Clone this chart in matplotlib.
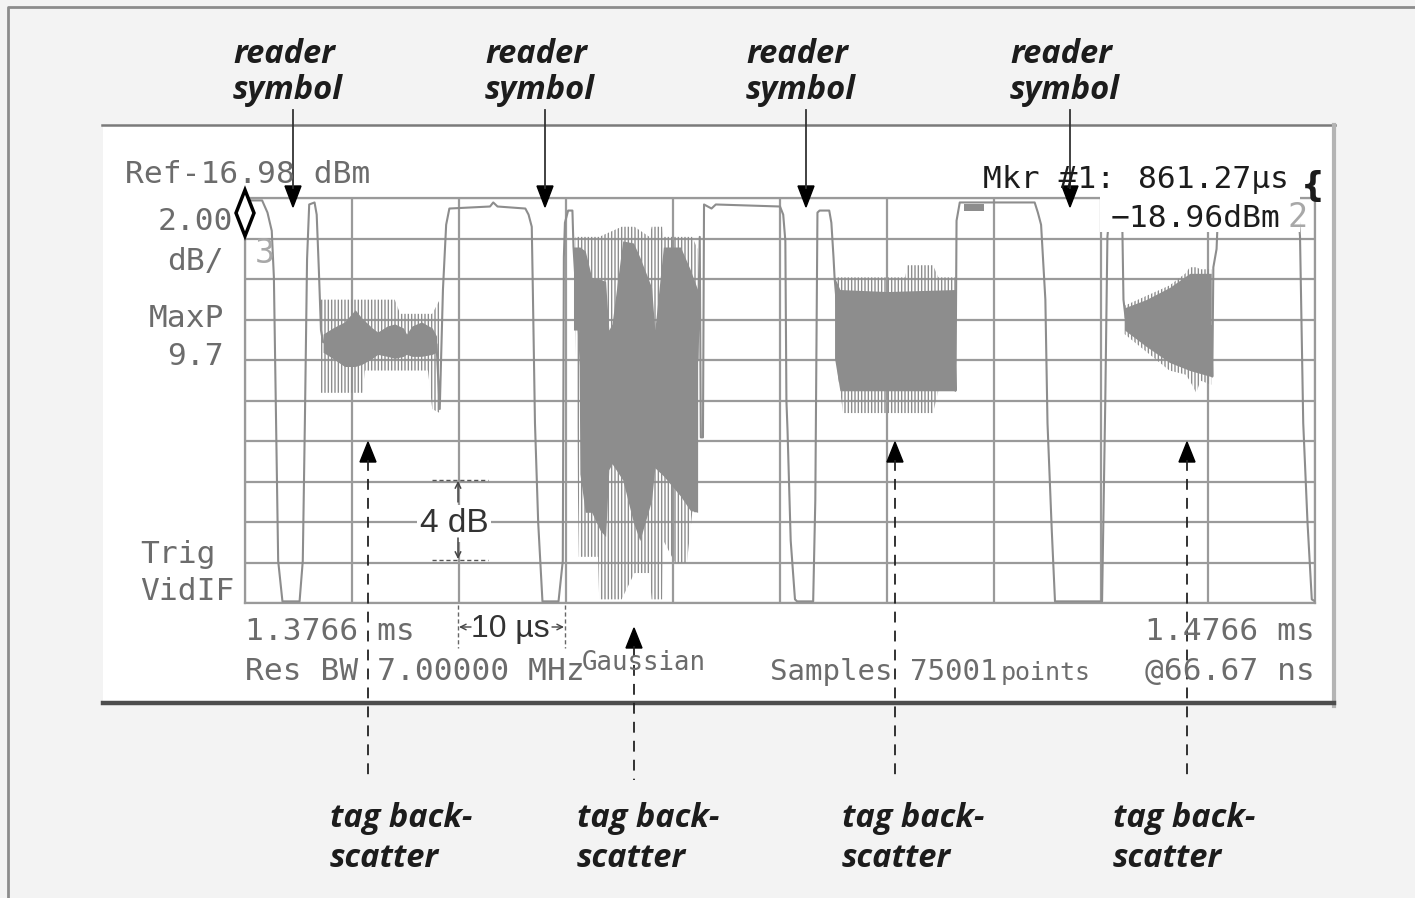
import numpy as np
import matplotlib
matplotlib.use('Agg')
import matplotlib.pyplot as plt
from matplotlib.patches import Polygon, Rectangle

plt.rcParams['hatch.linewidth'] = 1.0

# analyzer settings (zero span, time axis)
t_start_ms = 1.3766
t_stop_ms = 1.4766
ref_dbm = -16.98
db_per_div = 2.0
n_div = 10

# main trace, time in us from sweep start, level in dBm
trace_us = [0.0, 0.5, 1.6, 2.1, 2.5, 2.7, 2.9, 3.1, 3.5, 5.1, 5.4, 5.6, 5.8, 6.0, 6.5, 6.7, 6.9, 7.1, 7.3,
            17.9, 18.2, 18.5, 18.8, 19.1, 22.9, 23.2, 23.6, 26.2, 26.5, 26.8, 26.9, 27.1, 27.4, 27.8,
            29.3, 29.7, 29.8, 29.9, 30.2, 30.6, 30.7, 31.0, 31.5, 33.7, 34.1, 36.5, 38.2, 40.5, 42.3,
            42.5, 42.6, 42.8, 42.9, 43.6, 44.0, 50.0, 50.3, 50.5, 50.6, 50.7, 51.0, 51.4, 51.6,
            53.1, 53.3, 53.5, 53.7, 54.6, 54.8, 55.0, 55.1, 55.6, 66.3, 66.4, 66.5, 66.8,
            73.8, 74.1, 74.4, 74.8, 75.0, 75.4, 75.7, 80.1, 80.4, 80.6, 80.8, 81.7, 82.0, 82.1, 82.3,
            90.3, 90.4, 90.5, 90.8, 90.9, 91.3, 98.4, 98.6, 98.9, 99.3, 99.7, 100.0]
trace_dbm = [-17.7, -17.1, -17.1, -17.7, -18.6, -20.9, -27.9, -34.9, -36.9, -36.9, -34.9, -27.9, -20.0, -17.3, -17.2, -17.8, -20.5, -23.5, -24.1,
             -24.2, -27.4, -21.5, -18.3, -17.5, -17.4, -17.2, -17.4, -17.5, -17.8, -18.4, -21.5, -28.1, -33.0, -36.9,
             -36.9, -34.9, -19.9, -18.2, -17.6, -17.6, -19.4, -22.0, -26.0, -27.0, -27.0, -26.5, -26.5, -25.5, -25.0,
             -18.9, -28.8, -28.8, -17.3, -17.5, -17.3, -17.4, -17.8, -19.1, -27.0, -28.4, -33.9, -36.8, -36.9,
             -36.9, -31.9, -17.7, -17.6, -17.6, -18.2, -19.9, -20.9, -24.0, -24.0, -26.5, -18.1, -17.2,
             -17.2, -17.7, -18.3, -22.0, -28.1, -33.4, -36.9, -36.9, -27.0, -18.9, -17.7, -17.6, -18.6, -22.0, -22.9,
             -23.3, -25.8, -20.4, -19.5, -18.2, -17.4, -17.4, -18.9, -28.1, -33.0, -36.8, -36.9]

# tag backscatter bursts: dense part (core) and sparse vertical spikes (thin)
b1_core_us = [7.3, 8.2, 9.3, 10.3, 10.9, 11.9, 12.4, 13.3, 14.0, 14.8, 15.1, 15.6, 16.5, 17.5, 17.9]
b1_core_hi = [-23.7, -23.4, -23.1, -22.5, -22.9, -23.4, -23.6, -23.3, -23.2, -23.4, -23.7, -23.3, -23.1, -23.4, -23.8]
b1_core_lo = [-24.6, -24.9, -25.3, -25.3, -25.2, -24.9, -24.7, -24.8, -24.9, -24.8, -24.7, -24.8, -24.8, -24.7, -24.6]
b1_thin_us = [7.1, 11.0, 11.2, 14.0, 14.5, 17.1, 17.5, 18.2]
b1_thin_hi = [-22.0, -22.0, -22.0, -22.0, -22.7, -22.7, -22.7, -22.0]
b1_thin_lo = [-26.6, -26.6, -25.5, -25.5, -25.5, -25.5, -27.4, -27.6]

b2_core_us = [30.7, 31.2, 31.3, 31.8, 32.4, 33.2, 33.7, 34.0, 34.3, 35.3, 36.3, 36.9, 38.0, 38.3, 39.1, 40.7, 41.6, 42.3]
b2_core_hi = [-19.4, -19.4, -19.4, -19.6, -20.9, -21.0, -21.1, -23.5, -23.2, -19.1, -19.2, -19.9, -21.4, -23.5, -19.4, -19.4, -20.5, -21.5]
b2_core_lo = [-23.5, -23.5, -30.6, -32.5, -32.5, -33.4, -33.7, -30.4, -30.1, -30.9, -33.0, -33.9, -31.9, -30.3, -30.7, -31.7, -32.4, -32.5]
b2_thin_us = [30.9, 31.2, 33.0, 33.1, 35.2, 36.4, 37.8, 38.0, 39.0, 39.1, 40.2, 41.3, 41.8, 42.3]
b2_thin_hi = [-18.9, -18.9, -18.9, -18.9, -18.4, -18.4, -18.9, -18.4, -18.4, -18.9, -18.9, -18.9, -18.9, -19.5]
b2_thin_lo = [-23.5, -34.7, -34.7, -36.8, -36.8, -35.5, -35.5, -36.8, -36.8, -33.9, -35.0, -35.0, -32.5, -32.5]

b3_core_us = [55.1, 55.6, 60.0, 66.4]
b3_core_hi = [-20.9, -21.5, -21.6, -21.5]
b3_core_lo = [-24.9, -26.5, -26.5, -26.5]
b3_thin_us = [55.2, 55.9, 61.7, 61.9, 64.3, 64.8, 66.4]
b3_thin_hi = [-20.9, -20.9, -20.9, -20.3, -20.3, -20.9, -20.9]
b3_thin_lo = [-24.9, -27.6, -27.6, -27.6, -27.6, -26.5, -26.5]

b4_core_us = [82.2, 84.2, 86.4, 88.3, 90.3]
b4_core_hi = [-22.4, -22.0, -21.4, -20.7, -20.7]
b4_core_lo = [-23.5, -24.3, -25.1, -25.5, -25.8]
b4_thin_us = [82.2, 86.4, 87.9, 88.3, 88.9, 89.3, 90.3]
b4_thin_hi = [-22.3, -21.3, -20.7, -20.4, -20.4, -20.5, -20.5]
b4_thin_lo = [-23.7, -25.5, -25.7, -26.0, -26.6, -26.0, -26.2]

# small blob on the third reader pulse
blob_us = [67.2, 69.1]
blob_hi = [-17.3, -17.3]
blob_lo = [-17.6, -17.6]

TRACE = '#8d8d8d'
GRID = '#9a9a9a'
TXT = '#6c6c6c'
DARK = '#1c1c1c'

W, H = 1415, 898
fig = plt.figure(figsize=(W / 100, H / 100), dpi=100, facecolor='#f3f3f3')

# background layer (pixel coordinates)
bg = fig.add_axes([0, 0, 1, 1], zorder=0)
bg.set_xlim(0, W)
bg.set_ylim(H, 0)
bg.axis('off')
bg.add_patch(Rectangle((103, 125), 1231, 578, facecolor='white', edgecolor='none'))
bg.plot([8, 8, W], [H, 7, 7], color='#8c8c8c', lw=2)
bg.plot([102, 1335], [125, 125], color='#7a7a7a', lw=1.8)
bg.plot([1334, 1334], [125, 706], color='#b4b4b4', lw=3)
bg.plot([103, 1334], [703, 703], color='#4d4d4d', lw=3.2)

# trace display
ax = fig.add_axes([245 / W, 1 - 603 / H, 1070 / W, 405 / H], zorder=1)
ax.patch.set_alpha(0)
ax.set_xlim(0, (t_stop_ms - t_start_ms) * 1000)
ax.set_ylim(ref_dbm - n_div * db_per_div, ref_dbm)
ax.set_xticks(np.linspace(0, (t_stop_ms - t_start_ms) * 1000, n_div + 1))
ax.set_yticks(np.linspace(ref_dbm - n_div * db_per_div, ref_dbm, n_div + 1))
ax.tick_params(length=0, labelbottom=False, labelleft=False)
ax.grid(True, color=GRID, lw=1.6)
ax.set_axisbelow(True)
for sp in ax.spines.values():
    sp.set_color(GRID)
    sp.set_linewidth(1.6)

bursts = [(b1_core_us, b1_core_hi, b1_core_lo, b1_thin_us, b1_thin_hi, b1_thin_lo),
          (b2_core_us, b2_core_hi, b2_core_lo, b2_thin_us, b2_thin_hi, b2_thin_lo),
          (b3_core_us, b3_core_hi, b3_core_lo, b3_thin_us, b3_thin_hi, b3_thin_lo),
          (b4_core_us, b4_core_hi, b4_core_lo, b4_thin_us, b4_thin_hi, b4_thin_lo)]
for cx, chi, clo, tx, thi, tlo in bursts:
    ax.fill_between(tx, tlo, thi, facecolor='none', edgecolor=TRACE, hatch='|||||', lw=0, zorder=2)
    ax.fill_between(cx, clo, chi, color=TRACE, lw=0, zorder=3)
ax.fill_between(blob_us, blob_lo, blob_hi, color=TRACE, lw=0, zorder=3)
ax.plot(trace_us, trace_dbm, color=TRACE, lw=1.5, zorder=4)

# foreground layer: screen annotations and labels
fg = fig.add_axes([0, 0, 1, 1], zorder=2)
fg.set_xlim(0, W)
fg.set_ylim(H, 0)
fg.axis('off')


def mono(x, y, s, ha='left', color=TXT, size=22.5, **kw):
    fg.text(x, y, s, ha=ha, va='baseline', family='DejaVu Sans Mono', fontsize=size, color=color, **kw)


def label(x, y, s):
    fg.text(x, y, s, ha='left', va='baseline', family=['Open Sans', 'DejaVu Sans'],
            fontweight='bold', fontstyle='italic', fontsize=23.5, color=DARK)


mono(125, 183, 'Ref-16.98 dBm')
mono(233, 230, '2.00', ha='right')
mono(224, 270, 'dB/', ha='right')
mono(255, 263, '3', color='#a8a8a8', size=24)
mono(224, 327, 'MaxP', ha='right')
mono(224, 365, '9.7', ha='right')
mono(140, 563, 'Trig')
mono(140, 600, 'VidIF')
mono(245, 640, '1.3766 ms')
mono(245, 680, 'Res BW 7.00000 MHz')
mono(582, 670, 'Gaussian', size=18.5)
mono(770, 680, 'Samples 75001', size=21)
mono(1001, 680, 'points', size=18)
mono(1315, 640, '1.4766 ms', ha='right')
mono(1315, 680, '@66.67 ns', ha='right')

# marker readout (masks the grid behind it)
fg.add_patch(Rectangle((1100, 190), 200, 42, facecolor='white', edgecolor='none'))
mono(983, 188, 'Mkr #1:', color=DARK)
mono(1138, 188, '861.27µs', color=DARK)
mono(1111, 227, '−18.96dBm', color=DARK)
mono(1287, 227, '2', color='#a8a8a8', size=24)
fg.text(1313, 196, '{', ha='center', va='baseline', fontsize=24, fontweight='bold', color=DARK)

# reference level diamond
fg.add_patch(Polygon([(245, 190), (254, 213), (245, 236), (236, 213)], closed=True,
                     facecolor='white', edgecolor='black', lw=2.5))

# reader symbol callouts
reader_x = [293, 545, 806, 1070]
reader_txt_x = [233, 485, 746, 1010]
for ax_, tx in zip(reader_x, reader_txt_x):
    label(tx, 63, 'reader')
    label(tx, 99, 'symbol')
    fg.plot([ax_, ax_], [110, 188], color='#333333', lw=1.3)
    fg.add_patch(Polygon([(ax_ - 8, 186), (ax_ + 8, 186), (ax_, 207)], closed=True, color='black'))

# tag backscatter callouts
tag_x = [368, 634, 895, 1187]
tag_tip = [442, 628, 442, 442]
tag_txt_x = [330, 577, 842, 1113]
for ax_, tip, tx in zip(tag_x, tag_tip, tag_txt_x):
    fg.plot([ax_, ax_], [tip + 18, 780], color='#222222', lw=1.3, ls=(0, (6, 4.5)))
    fg.add_patch(Polygon([(ax_ - 8, tip + 20), (ax_ + 8, tip + 20), (ax_, tip)], closed=True, color='black'))
    label(tx, 827, 'tag back-')
    label(tx, 867, 'scatter')

# 4 dB scale mark
fg.text(454, 532, '4 dB', ha='center', va='baseline', family='Liberation Sans', fontsize=24, color='#333333',
        bbox=dict(facecolor='white', edgecolor='none', pad=2))
for yy in [480, 560]:
    fg.plot([432, 488], [yy, yy], color='#555555', lw=1, ls=(0, (3, 2)))
fg.annotate('', xy=(458, 481), xytext=(458, 502),
            arrowprops=dict(arrowstyle='->', color='#444444', lw=1.1, shrinkA=0, shrinkB=0))
fg.annotate('', xy=(458, 559), xytext=(458, 538),
            arrowprops=dict(arrowstyle='->', color='#444444', lw=1.1, shrinkA=0, shrinkB=0))

# 10 us scale mark
for xx in [458, 565]:
    fg.plot([xx, xx], [605, 648], color='#666666', lw=1, ls=(0, (3, 2)))
fg.text(510, 637, '10 µs', ha='center', va='baseline', family='Liberation Sans', fontsize=23, color='#333333')
fg.annotate('', xy=(459, 627), xytext=(471, 627),
            arrowprops=dict(arrowstyle='->', color='#444444', lw=1, shrinkA=0, shrinkB=0))
fg.annotate('', xy=(564, 627), xytext=(552, 627),
            arrowprops=dict(arrowstyle='->', color='#444444', lw=1, shrinkA=0, shrinkB=0))

fig.savefig('out.png', dpi=100, facecolor=fig.get_facecolor())
